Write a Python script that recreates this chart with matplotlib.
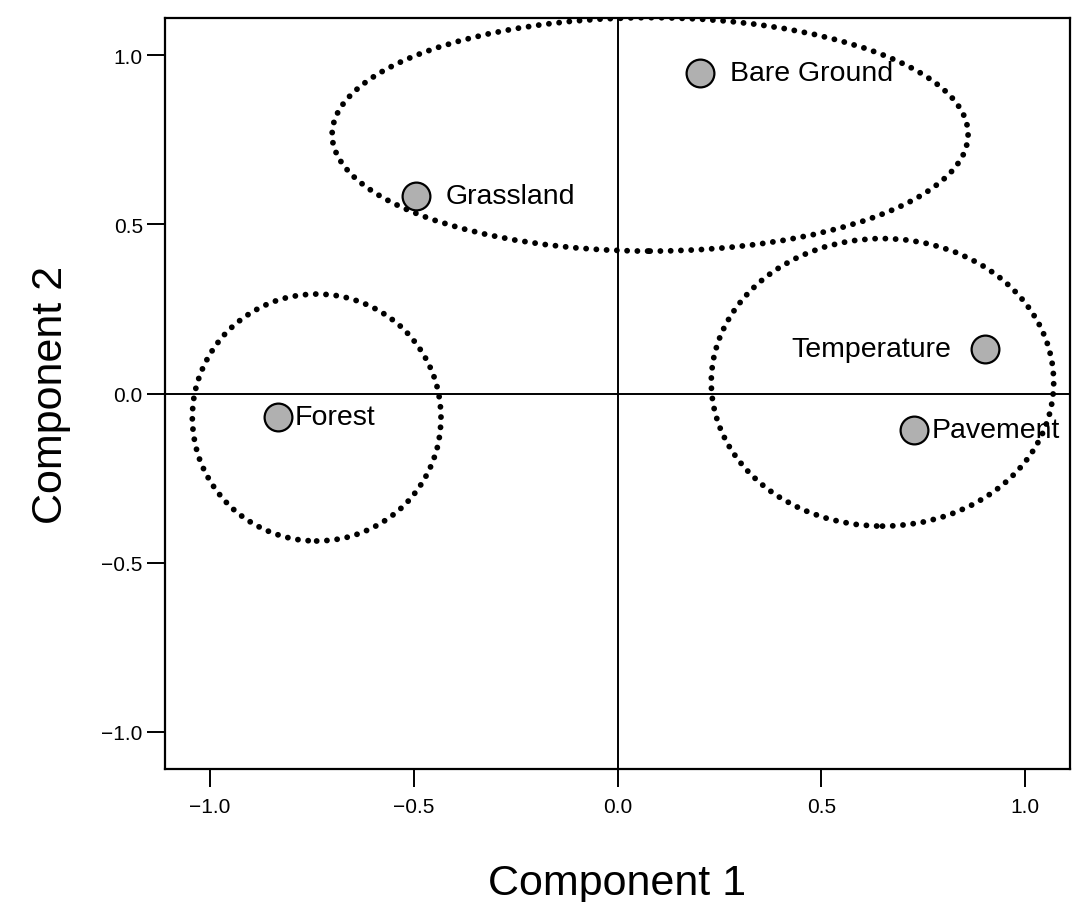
import matplotlib
matplotlib.use("Agg")
import matplotlib.pyplot as plt
from matplotlib.patches import Ellipse

plt.rcParams['font.family'] = ['Liberation Sans', 'DejaVu Sans']

# Data
labels = ["Bare Ground", "Grassland", "Temperature", "Pavement", "Forest"]
comp1 = [0.203, -0.495, 0.902, 0.728, -0.833]
comp2 = [0.947, 0.583, 0.133, -0.109, -0.068]
label_side = ["right", "right", "left", "right", "right"]
label_gap = [30, 30, 34, 17, 17]  # pixels between point and text

# Cluster ellipses (center x, center y, width, height)
ell_cx = [0.08, -0.738, 0.65]
ell_cy = [0.766, -0.071, 0.033]
ell_w = [1.56, 0.61, 0.84]
ell_h = [0.69, 0.73, 0.85]

xticks = [-1.0, -0.5, 0.0, 0.5, 1.0]
yticks = [-1.0, -0.5, 0.0, 0.5, 1.0]

fig = plt.figure(figsize=(10.83, 9.03), dpi=100)
ax = fig.add_axes([165/1083, (903-770)/903, (1070-165)/1083, (770-19)/903])
ax.set_xlim(-1.11, 1.11)
ax.set_ylim(-1.11, 1.11)

ax.axhline(0, color='black', lw=1.4, zorder=1)
ax.axvline(0, color='black', lw=1.4, zorder=1)

for cx, cy, w, h in zip(ell_cx, ell_cy, ell_w, ell_h):
    e = Ellipse((cx, cy), w, h, fill=False, edgecolor='black', lw=4.2,
                linestyle=(0, (0.01, 1.75)), zorder=2)
    e.set_capstyle('round')
    ax.add_patch(e)

ax.plot(comp1, comp2, 'o', ms=20, mfc='#b0b0b0', mec='black', mew=1.6,
        linestyle='none', zorder=3)

for x, y, t, side, g in zip(comp1, comp2, labels, label_side, label_gap):
    dx = g * 72 / 100
    if side == "right":
        ax.annotate(t, (x, y), xytext=(dx, 0), textcoords='offset points',
                    ha='left', va='center', fontsize=20.5, zorder=4)
    else:
        ax.annotate(t, (x, y), xytext=(-dx, 0), textcoords='offset points',
                    ha='right', va='center', fontsize=20.5, zorder=4)

ax.set_xticks(xticks)
ax.set_yticks(yticks)
ax.set_xticklabels([f"{v:.1f}".replace('-', '\u2212') for v in xticks])
ax.set_yticklabels([f"{v:.1f}".replace('-', '\u2212') for v in yticks])
ax.tick_params(direction='out', length=13, width=1.4, labelsize=15, pad=3)
ax.tick_params(axis='x', pad=7)
ax.tick_params(top=False, right=False)

for s in ax.spines.values():
    s.set_linewidth(1.6)

ax.set_xlabel("Component 1", fontsize=31, labelpad=34)
ax.set_ylabel("Component 2", fontsize=31, labelpad=22)

fig.savefig("out.png", dpi=100, facecolor='white')
